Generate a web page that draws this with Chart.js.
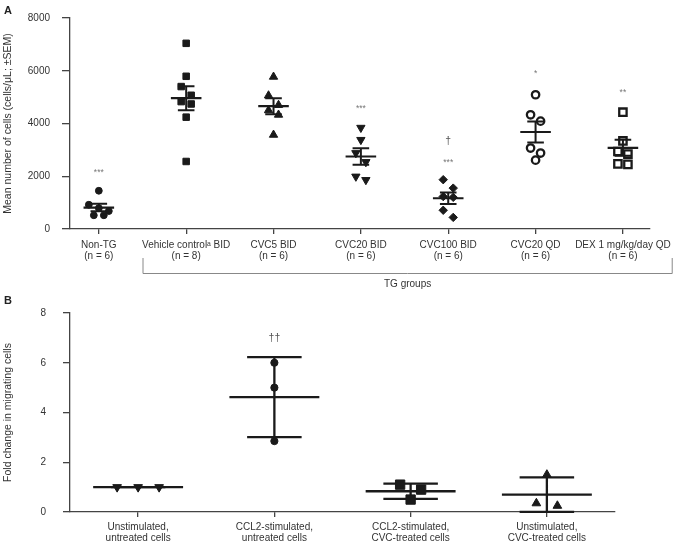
<!DOCTYPE html>
<html><head><meta charset="utf-8">
<script src="https://cdn.jsdelivr.net/npm/chart.js@4.4.0/dist/chart.umd.min.js"></script>
<style>
html,body{margin:0;padding:0;background:#fff;}
body{width:675px;height:543px;position:relative;overflow:hidden;font-family:"Liberation Sans",Arial,sans-serif;}
canvas{position:absolute;left:0;}
#ca{top:0;}
#cb{top:290px;}
.lbl{position:absolute;font-weight:bold;font-size:11px;color:#222;line-height:11px;}
</style></head><body>
<canvas id="ca" width="675" height="290"></canvas>
<canvas id="cb" width="675" height="253"></canvas>
<div class="lbl" style="left:4px;top:5px">A</div>
<div class="lbl" style="left:4px;top:295px">B</div>
<script>
// ---------- Panel A data ----------
const groupsA = ['Non-TG', 'Vehicle controlᵃ BID', 'CVC5 BID', 'CVC20 BID', 'CVC100 BID', 'CVC20 QD', 'DEX 1 mg/kg/day QD'];
const nLabelsA = ['(n = 6)', '(n = 8)', '(n = 6)', '(n = 6)', '(n = 6)', '(n = 6)', '(n = 6)'];
const nonTG     = [1450, 920, 790, 680, 520, 520];
const vehicle   = [7040, 5790, 5400, 5070, 4830, 4740, 4240, 2560];
const cvc5Bid   = [5770, 5060, 4700, 4500, 4330, 3570];
const cvc20Bid  = [3840, 3380, 2880, 2540, 1990, 1860];
const cvc100Bid = [1870, 1550, 1230, 1200, 710, 440];
const cvc20Qd   = [5090, 4330, 4090, 3070, 2880, 2610];
const dexQd     = [4430, 3340, 2940, 2840, 2470, 2450];
const yTicksA = [0, 2000, 4000, 6000, 8000];
const sigTextA  = ['***', '***', '†', '***', '*', '**'];
const sigGroupA = [0, 3, 4, 4, 5, 6];
const sigValueA = [2120, 4550, 3320, 2530, 5890, 5180];
const bracketLabelA = 'TG groups';

// ---------- Panel B data ----------
const groupsB = [['Unstimulated,', 'untreated cells'], ['CCL2-stimulated,', 'untreated cells'], ['CCL2-stimulated,', 'CVC-treated cells'], ['Unstimulated,', 'CVC-treated cells']];
const unstimUntreated = [1.0, 1.0, 1.0];
const ccl2Untreated   = [6.0, 5.0, 2.85];
const ccl2Treated     = [1.1, 0.9, 0.5];
const unstimTreated   = [1.5, 0.25, 0.35];
const yTicksB = [0, 2, 4, 6, 8];
const sigTextB  = ['††'];
const sigGroupB = [1];
const sigValueB = [7.0];

// ---------- helpers ----------
const FONT = "'Liberation Sans', Arial, sans-serif";
const INK = '#1a1a1a';
const AXIS = '#444';
function mean(a){return a.reduce((s,v)=>s+v,0)/a.length;}
function sd(a){const m=mean(a);return Math.sqrt(a.reduce((s,v)=>s+(v-m)*(v-m),0)/(a.length-1));}
function sem(a){return sd(a)/Math.sqrt(a.length);}

function summarySegments(groups, errFn, halfMean, halfCap){
  const meanPts=[], errPts=[];
  groups.forEach((vals,gi)=>{
    const m=mean(vals), e=errFn(vals);
    meanPts.push({x:gi-halfMean,y:m},{x:gi+halfMean,y:m},{x:gi,y:null});
    errPts.push({x:gi,y:m-e},{x:gi,y:m+e},{x:gi,y:null},
                {x:gi-halfCap,y:m+e},{x:gi+halfCap,y:m+e},{x:gi,y:null},
                {x:gi-halfCap,y:m-e},{x:gi+halfCap,y:m-e},{x:gi,y:null});
  });
  return {meanPts, errPts};
}

function swarmOffsets(vals, yScale, thr, stepPx){
  const idx = vals.map((v,i)=>i).sort((a,b)=>vals[b]-vals[a]);
  const off = vals.map(()=>0);
  let cl = [];
  const flush = () => { cl.forEach((k,j)=>{ off[k] = (j-(cl.length-1)/2)*stepPx; }); cl = []; };
  idx.forEach(k => {
    if (cl.length && Math.abs(yScale.getPixelForValue(vals[k]) - yScale.getPixelForValue(vals[cl[0]])) > thr) flush();
    cl.push(k);
  });
  flush();
  return off;
}
function applySwarm(chart, groups, thr, step){
  const xs = chart.scales.x, ys = chart.scales.y;
  const ppu = xs.getPixelForValue(1) - xs.getPixelForValue(0);
  groups.forEach((vals, gi) => {
    const off = swarmOffsets(vals, ys, thr, step);
    chart.data.datasets[gi].data = vals.map((v,i)=>({x: gi + off[i]/ppu, y: v}));
  });
  chart.update('none');
}

function pointDs(vals, gi, style, radius, filled, rotation, bw){
  return {
    data: vals.map(v=>({x:gi,y:v})),
    pointStyle: style, pointRadius: radius, pointRotation: rotation||0,
    pointBackgroundColor: filled ? INK : 'rgba(0,0,0,0)',
    pointBorderColor: INK, pointBorderWidth: bw || 1,
    showLine: false, order: 0, clip: false
  };
}
function lineDs(pts, w){
  return {data: pts, showLine: true, pointRadius: 0, borderColor: INK, borderWidth: w,
          borderCapStyle: 'butt', spanGaps: false, order: 1, clip: false};
}

const sigPlugin = {
  id: 'sig',
  afterDatasetsDraw(chart, args, opts){
    const ctx = chart.ctx, xs = chart.scales.x, ys = chart.scales.y;
    ctx.save();
    ctx.textAlign = 'center'; ctx.textBaseline = 'middle';
    opts.text.forEach((t,i)=>{
      const big = t.indexOf('†') >= 0;
      ctx.fillStyle = big ? '#555' : '#777';
      ctx.font = (big ? '10.5px ' : '8.5px ') + FONT;
      ctx.fillText(t, xs.getPixelForValue(opts.group[i]), ys.getPixelForValue(opts.value[i]));
    });
    ctx.restore();
  }
};

const bracketPlugin = {
  id: 'bracket',
  afterDraw(chart, args, opts){
    if (!opts.label) return;
    const ctx = chart.ctx, xs = chart.scales.x, b = chart.chartArea.bottom;
    const xl = xs.getPixelForValue(opts.from), xr = xs.getPixelForValue(opts.to);
    ctx.save();
    ctx.strokeStyle = '#888'; ctx.lineWidth = 1;
    ctx.beginPath();
    ctx.moveTo(xl+0.5, b+29); ctx.lineTo(xl+0.5, b+44.5); ctx.lineTo(xr-0.5, b+44.5); ctx.lineTo(xr-0.5, b+29);
    ctx.stroke();
    ctx.fillStyle = '#333'; ctx.font = '10px ' + FONT;
    ctx.textAlign = 'center'; ctx.textBaseline = 'middle';
    ctx.fillText(opts.label, (xl+xr)/2, b+55);
    ctx.restore();
  }
};

function baseScales(opt){
  return {
    x: {
      type: 'linear', min: opt.xmin, max: opt.xmax,
      afterBuildTicks: ax => { ax.ticks = opt.labels.map((l,i)=>({value:i})); },
      afterFit: s => { s.height = opt.xHeight; s.paddingLeft = 0; s.paddingRight = 0; },
      ticks: {
        autoSkip: false, maxRotation: 0, minRotation: 0, padding: opt.xPad,
        color: '#333', font: {family: FONT, size: 10, lineHeight: 1.15},
        callback: (v) => opt.labels[Math.round(v)]
      },
      grid: {drawOnChartArea: false, drawTicks: true, tickLength: 5, color: AXIS, lineWidth: 1.3},
      border: {display: true, color: AXIS, width: 1.3}
    },
    y: {
      type: 'linear', min: opt.ymin, max: opt.ymax,
      afterBuildTicks: ax => { ax.ticks = opt.yTicks.map(v=>({value:v})); },
      afterFit: s => { s.width = 70; },
      ticks: {padding: opt.yPad, color: '#333', font: {family: FONT, size: 10}, callback: v => String(v)},
      grid: {drawOnChartArea: false, drawTicks: true, tickLength: opt.yTick, color: AXIS, lineWidth: 1.3},
      border: {display: true, color: AXIS, width: 1.3},
      title: {display: true, text: opt.yTitle, color: '#333', font: {family: FONT, size: 10.5}, padding: {top: 2, bottom: 0}}
    }
  };
}

// ---------- Chart A ----------
const seriesA = [nonTG, vehicle, cvc5Bid, cvc20Bid, cvc100Bid, cvc20Qd, dexQd];
const sumA = summarySegments(seriesA, sem, 0.175, 0.095);
const chartA = new Chart(document.getElementById('ca'), {
  type: 'scatter',
  data: {datasets: [
    pointDs(nonTG, 0, 'circle', 3.4, true),
    pointDs(vehicle, 1, 'rect', 4.6, true),
    pointDs(cvc5Bid, 2, 'triangle', 4.8, true),
    pointDs(cvc20Bid, 3, 'triangle', 4.8, true, 180),
    pointDs(cvc100Bid, 4, 'rectRot', 4.2, true),
    pointDs(cvc20Qd, 5, 'circle', 3.7, false, 0, 2.3),
    pointDs(dexQd, 6, 'rect', 5.2, false, 0, 2.3),
    lineDs(sumA.meanPts, 2.2),
    lineDs(sumA.errPts, 2)
  ]},
  options: {
    responsive: false, animation: false, devicePixelRatio: 1,
    layout: {padding: {left: 0, right: 25, top: 15, bottom: 0}},
    plugins: {legend: {display: false}, tooltip: {enabled: false},
      sig: {text: sigTextA, group: sigGroupA, value: sigValueA},
      bracket: {label: bracketLabelA, from: 0.5, to: 6.57}},
    scales: baseScales({xmin: -0.33, xmax: 6.31, labels: groupsA.map((g,i)=>[g, nLabelsA[i]]),
      xHeight: 61, xPad: 5, ymin: 0, ymax: 8000, yTicks: yTicksA, yPad: 12, yTick: 8,
      yTitle: 'Mean number of cells (cells/μL; ±SEM)'})
  },
  plugins: [sigPlugin, bracketPlugin]
});
applySwarm(chartA, seriesA, 10, 10);

// ---------- Chart B ----------
const seriesB = [unstimUntreated, ccl2Untreated, ccl2Treated, unstimTreated];
const sumB = summarySegments(seriesB, sd, 0.33, 0.2);
const chartB = new Chart(document.getElementById('cb'), {
  type: 'scatter',
  data: {datasets: [
    pointDs(unstimUntreated, 0, 'triangle', 5, true, 180),
    pointDs(ccl2Untreated, 1, 'circle', 3.6, true),
    pointDs(ccl2Treated, 2, 'rect', 6.6, true),
    pointDs(unstimTreated, 3, 'triangle', 5, true),
    lineDs(sumB.meanPts, 2.3),
    lineDs(sumB.errPts, 2.3)
  ]},
  options: {
    responsive: false, animation: false, devicePixelRatio: 1,
    layout: {padding: {left: 0, right: 60, top: 16, bottom: 0}},
    plugins: {legend: {display: false}, tooltip: {enabled: false},
      sig: {text: sigTextB, group: sigGroupB, value: sigValueB},
      bracket: {label: null}},
    scales: baseScales({xmin: -0.5, xmax: 3.5, labels: groupsB,
      xHeight: 31, xPad: 4, ymin: 0, ymax: 8, yTicks: yTicksB, yPad: 17, yTick: 7,
      yTitle: 'Fold change in migrating cells'})
  },
  plugins: [sigPlugin, bracketPlugin]
});
applySwarm(chartB, seriesB, 8, 21);
</script>
</body></html>
